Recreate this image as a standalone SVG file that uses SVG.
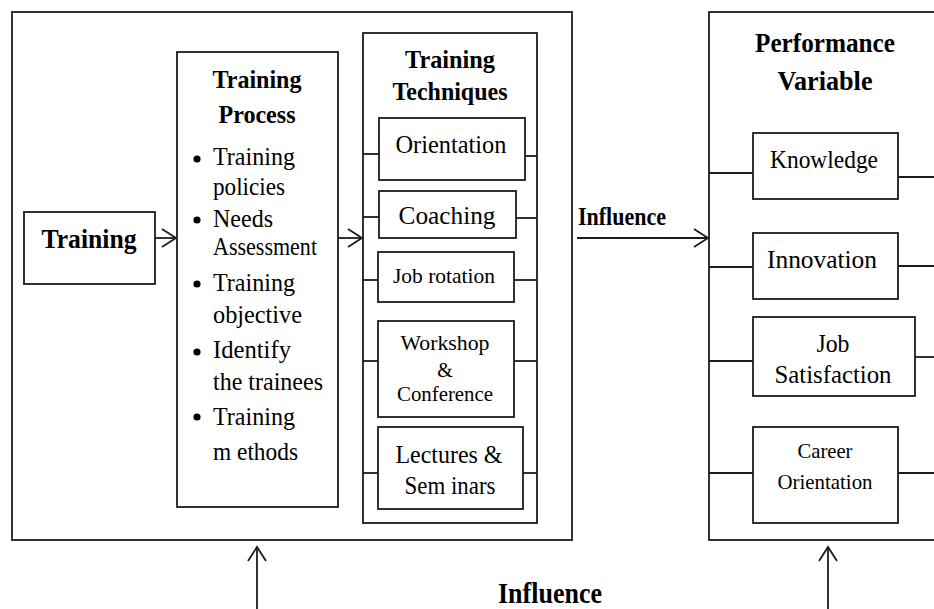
<svg xmlns="http://www.w3.org/2000/svg" width="934" height="609" viewBox="0 0 934 609">
<defs>
<style>
.box{fill:none;stroke:#1c1c1c;stroke-width:1.8}
.ln{fill:none;stroke:#1c1c1c;stroke-width:1.8}
.t{font-family:"Liberation Serif","Times New Roman",serif;fill:#000}
.b{font-weight:bold}
.c{text-anchor:middle}
</style>
<marker id="ah" markerUnits="userSpaceOnUse" markerWidth="18" markerHeight="22" refX="16" refY="10" orient="auto">
<path d="M2,1 L16,10 L2,19" fill="none" stroke="#1c1c1c" stroke-width="1.8"/>
</marker>
</defs>
<rect width="934" height="609" fill="#fff"/>

<g id="outer-left"><rect class="box" x="12" y="12" width="560" height="528"/></g>
<g id="outer-right">
<rect class="box" x="709" y="12" width="240" height="528"/>
<text class="t b c" x="825" y="52" font-size="27" textLength="140" lengthAdjust="spacingAndGlyphs">Performance</text>
<text class="t b c" x="825" y="90" font-size="27" textLength="95" lengthAdjust="spacingAndGlyphs">Variable</text>
</g>

<g id="training">
<rect class="box" x="24" y="212" width="131" height="72"/>
<text class="t b c" x="89" y="248" font-size="27" textLength="95" lengthAdjust="spacingAndGlyphs">Training</text>
</g>

<g id="process">
<rect class="box" x="177" y="52" width="161" height="455"/>
<text class="t b c" x="257" y="88" font-size="26" textLength="89" lengthAdjust="spacingAndGlyphs">Training</text>
<text class="t b c" x="257" y="123" font-size="26" textLength="77" lengthAdjust="spacingAndGlyphs">Process</text>
<g fill="#000">
<circle cx="197" cy="159" r="3.6"/>
<circle cx="197" cy="220" r="3.6"/>
<circle cx="197" cy="284" r="3.6"/>
<circle cx="197" cy="352" r="3.6"/>
<circle cx="197" cy="417" r="3.6"/>
</g>
<text class="t" x="213" y="165" font-size="26" textLength="82" lengthAdjust="spacingAndGlyphs">Training</text>
<text class="t" x="213" y="195" font-size="26" textLength="72" lengthAdjust="spacingAndGlyphs">policies</text>
<text class="t" x="213" y="227" font-size="26" textLength="60" lengthAdjust="spacingAndGlyphs">Needs</text>
<text class="t" x="213" y="255" font-size="26" textLength="104" lengthAdjust="spacingAndGlyphs">Assessment</text>
<text class="t" x="213" y="291" font-size="26" textLength="82" lengthAdjust="spacingAndGlyphs">Training</text>
<text class="t" x="213" y="323" font-size="26" textLength="89" lengthAdjust="spacingAndGlyphs">objective</text>
<text class="t" x="213" y="358" font-size="26" textLength="78" lengthAdjust="spacingAndGlyphs">Identify</text>
<text class="t" x="213" y="390" font-size="26" textLength="110" lengthAdjust="spacingAndGlyphs">the trainees</text>
<text class="t" x="213" y="425" font-size="26" textLength="82" lengthAdjust="spacingAndGlyphs">Training</text>
<text class="t" x="213" y="460" font-size="26" textLength="85" lengthAdjust="spacingAndGlyphs">m ethods</text>
</g>

<g id="techniques">
<rect class="box" x="363" y="33" width="174" height="490"/>
<text class="t b c" x="450" y="68" font-size="26" textLength="90" lengthAdjust="spacingAndGlyphs">Training</text>
<text class="t b c" x="450" y="100" font-size="26" textLength="115" lengthAdjust="spacingAndGlyphs">Techniques</text>
</g>
<g id="orientation">
<rect class="box" x="379" y="118" width="146" height="62"/>
<text class="t c" x="451" y="153" font-size="25" textLength="111" lengthAdjust="spacingAndGlyphs">Orientation</text>
</g>
<g id="coaching">
<rect class="box" x="379" y="191" width="137" height="47"/>
<text class="t c" x="447" y="224" font-size="25" textLength="97" lengthAdjust="spacingAndGlyphs">Coaching</text>
</g>
<g id="job-rotation">
<rect class="box" x="378" y="252" width="136" height="50"/>
<text class="t c" x="444" y="283" font-size="22" textLength="102" lengthAdjust="spacingAndGlyphs">Job rotation</text>
</g>
<g id="workshop">
<rect class="box" x="378" y="321" width="136" height="96"/>
<text class="t c" x="445" y="350" font-size="20" textLength="89" lengthAdjust="spacingAndGlyphs">Workshop</text>
<text class="t c" x="445" y="377" font-size="20">&amp;</text>
<text class="t c" x="445" y="401" font-size="20" textLength="96" lengthAdjust="spacingAndGlyphs">Conference</text>
</g>
<g id="lectures">
<rect class="box" x="378" y="427" width="145" height="82"/>
<text class="t c" x="449" y="463" font-size="25" textLength="107" lengthAdjust="spacingAndGlyphs">Lectures &amp;</text>
<text class="t c" x="450" y="494" font-size="25" textLength="91" lengthAdjust="spacingAndGlyphs">Sem inars</text>
</g>

<g id="knowledge">
<rect class="box" x="753" y="133" width="145" height="66"/>
<text class="t c" x="824" y="168" font-size="25" textLength="108" lengthAdjust="spacingAndGlyphs">Knowledge</text>
</g>
<g id="innovation">
<rect class="box" x="753" y="233" width="145" height="66"/>
<text class="t c" x="822" y="268" font-size="25" textLength="110" lengthAdjust="spacingAndGlyphs">Innovation</text>
</g>
<g id="job-satisfaction">
<rect class="box" x="753" y="317" width="162" height="79"/>
<text class="t c" x="833" y="352" font-size="25" textLength="33" lengthAdjust="spacingAndGlyphs">Job</text>
<text class="t c" x="833" y="383" font-size="25" textLength="117" lengthAdjust="spacingAndGlyphs">Satisfaction</text>
</g>
<g id="career">
<rect class="box" x="753" y="427" width="145" height="96"/>
<text class="t c" x="825" y="458" font-size="22" textLength="55" lengthAdjust="spacingAndGlyphs">Career</text>
<text class="t c" x="825" y="489" font-size="22" textLength="95" lengthAdjust="spacingAndGlyphs">Orientation</text>
</g>

<g id="connectors">
<line class="ln" x1="155" y1="238" x2="176" y2="238" marker-end="url(#ah)"/>
<line class="ln" x1="338" y1="238" x2="362" y2="238" marker-end="url(#ah)"/>
<line class="ln" x1="577" y1="238" x2="708" y2="238" marker-end="url(#ah)"/>
<line class="ln" x1="257" y1="609" x2="257" y2="547" marker-end="url(#ah)"/>
<line class="ln" x1="828" y1="609" x2="828" y2="547" marker-end="url(#ah)"/>
<line class="ln" x1="363" y1="154" x2="379" y2="154"/>
<line class="ln" x1="525" y1="156" x2="537" y2="156"/>
<line class="ln" x1="363" y1="217" x2="379" y2="217"/>
<line class="ln" x1="516" y1="218" x2="537" y2="218"/>
<line class="ln" x1="363" y1="280" x2="378" y2="280"/>
<line class="ln" x1="514" y1="280" x2="537" y2="280"/>
<line class="ln" x1="363" y1="361" x2="378" y2="361"/>
<line class="ln" x1="514" y1="361" x2="537" y2="361"/>
<line class="ln" x1="363" y1="473" x2="378" y2="473"/>
<line class="ln" x1="523" y1="473" x2="537" y2="473"/>
<line class="ln" x1="709" y1="173" x2="753" y2="173"/>
<line class="ln" x1="898" y1="177" x2="934" y2="177"/>
<line class="ln" x1="709" y1="267" x2="753" y2="267"/>
<line class="ln" x1="898" y1="266" x2="934" y2="266"/>
<line class="ln" x1="709" y1="361" x2="753" y2="361"/>
<line class="ln" x1="915" y1="357" x2="934" y2="357"/>
<line class="ln" x1="709" y1="473" x2="753" y2="473"/>
<line class="ln" x1="898" y1="473" x2="934" y2="473"/>
<text class="t b" x="578" y="225" font-size="25" textLength="88" lengthAdjust="spacingAndGlyphs">Influence</text>
<text class="t b" x="498" y="603" font-size="30" textLength="104" lengthAdjust="spacingAndGlyphs">Influence</text>
</g>
</svg>
